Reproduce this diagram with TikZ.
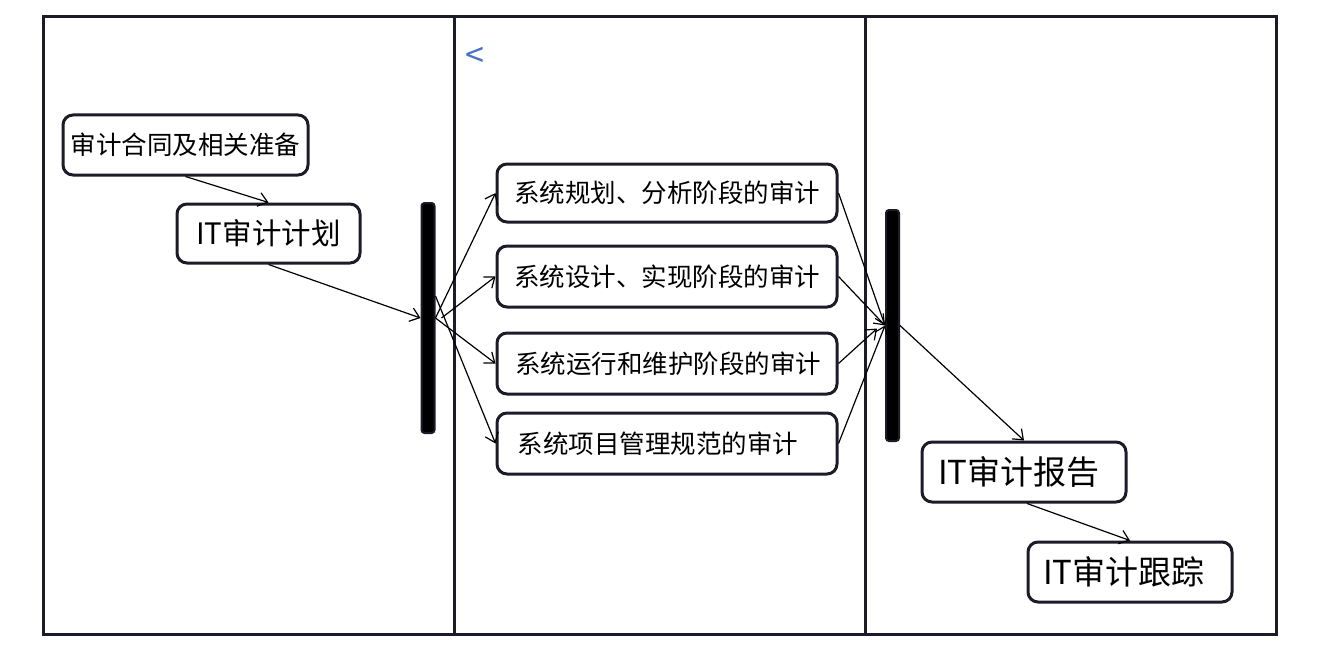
\documentclass[tikz,border=0pt]{standalone}
\usepackage{fontspec}
\newfontfamily\cjk{Noto Sans CJK SC}
\usetikzlibrary{arrows.meta}
\definecolor{frame}{RGB}{28,28,40}
\definecolor{tipblue}{RGB}{68,114,196}
\tikzset{
  box/.style={draw=frame, line width=3pt, rounded corners=10pt, fill=white, inner sep=0pt, font=\cjk},
  bar/.style={draw=frame, fill=black, line width=2pt, rounded corners=3pt, inner sep=0pt, minimum width=13pt},
  flow/.style={line width=1.2pt, -{Straight Barb[length=9pt,width=14pt,line width=1.2pt]}},
  lane/.style={line width=3pt, draw=frame}
}
\begin{document}
\begin{tikzpicture}[x=1pt,y=-1pt]
\useasboundingbox (0,0) rectangle (1321,650);
% swimlanes
\draw[lane] (43,17) rectangle (1276,634);
\draw[lane] (454,17) -- (454,634);
\draw[lane] (865,17) -- (865,634);
\node[font=\cjk\fontsize{34}{40}\selectfont\addfontfeature{Color=4472C4}, inner sep=0pt] (lt) at (475,57) {<};
% left lane
\node[box, minimum width=245pt, minimum height=60pt, font=\cjk\fontsize{25.5}{30}\selectfont] (a) at (185.5,145) {审计合同及相关准备};
\node[box, minimum width=183pt, minimum height=59pt, font=\cjk\fontsize{29.5}{34}\selectfont] (b) at (268.5,233.5) {IT审计计划};
\node[bar, minimum height=230pt] (f1) at (428,318) {};
% middle lane
\node[box, minimum width=340pt, minimum height=58pt, font=\cjk\fontsize{25.5}{30}\selectfont] (m1) at (667,193) {系统规划、分析阶段的审计};
\node[box, minimum width=340pt, minimum height=61pt, font=\cjk\fontsize{25.5}{30}\selectfont] (m2) at (667,276.5) {系统设计、实现阶段的审计};
\node[box, minimum width=340pt, minimum height=61pt, font=\cjk\fontsize{25.5}{30}\selectfont] (m3) at (667,363.5) {\hspace*{2pt}系统运行和维护阶段的审计};
\node[box, minimum width=340pt, minimum height=61pt, font=\cjk\fontsize{25.5}{30}\selectfont] (m4) at (667,443.5) {系统项目管理规范的审计\hspace*{18pt}};
% right lane
\node[bar, minimum height=231pt] (f2) at (892.5,325.5) {};
\node[box, minimum width=204pt, minimum height=60pt, font=\cjk\fontsize{33}{38}\selectfont] (r) at (1024,472) {IT审计报告\hspace*{10pt}};
\node[box, minimum width=204pt, minimum height=60pt, font=\cjk\fontsize{33}{38}\selectfont] (t) at (1130,572) {IT审计跟踪\hspace*{12pt}};
% connectors
\draw[flow] (a.south) -- (b.north);
\draw[flow] (b.south) -- (f1.west);
\draw[flow] (f1.east) -- (m1.west);
\draw[flow] ([xshift=6pt]f1.east) -- (m2.west);
\draw[flow] (f1.east) -- (m3.west);
\draw[flow] ([yshift=22pt]f1.east) -- (m4.west);
\draw[flow] (m1.east) -- (f2.west);
\draw[flow] (m2.east) -- (f2.west);
\draw[flow] (m3.east) -- ([xshift=-8pt,yshift=-3pt]f2.west);
\draw[flow] (m4.east) -- (f2.west);
\draw[flow] (f2.east) -- (r.north);
\draw[flow] ([xshift=3pt]r.south) -- (t.north);
\end{tikzpicture}
\end{document}
